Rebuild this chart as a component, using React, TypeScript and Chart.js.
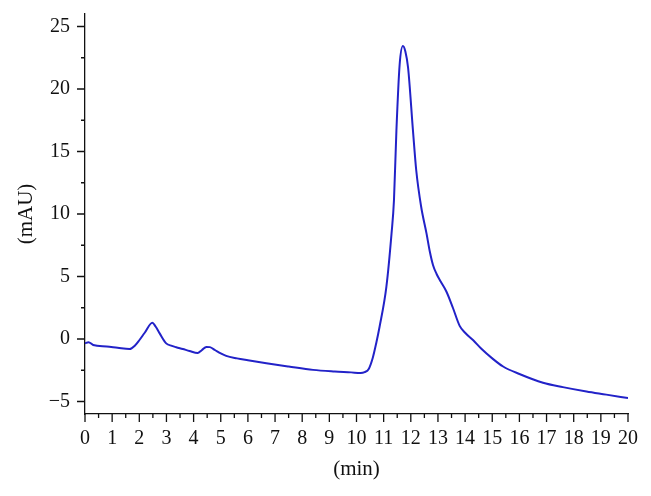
import React, { useEffect, useRef } from "react";
import { Chart, registerables } from "chart.js";

Chart.register(...registerables);

const timeMin: number[] = [
  0, 0.13, 0.3, 0.8, 1.2, 1.64, 1.85, 2.0, 2.2, 2.48, 2.6, 2.75, 2.99, 3.2, 3.36, 3.6, 3.85, 4.15, 4.3, 4.47,
  4.6, 4.8, 5.0, 5.2, 5.6, 6.0, 6.68, 7.5, 8.4, 9.2, 9.8, 10.15, 10.3, 10.45, 10.6, 10.73, 10.85, 11.1, 11.29,
  11.38, 11.47, 11.59, 11.71, 11.8, 11.9, 12.08, 12.2, 12.38, 12.58, 12.7, 12.82, 12.95, 13.1, 13.31, 13.55, 13.8,
  14.0, 14.3, 14.6, 15.0, 15.4, 16.0, 16.87, 17.6, 18.47, 19.2, 20.0,
];
const absorbance: number[] = [
  -0.35, -0.25, -0.48, -0.6, -0.7, -0.8, -0.5, -0.1, 0.5, 1.3, 1.0, 0.45, -0.35, -0.55, -0.66, -0.8, -0.96, -1.12,
  -0.9, -0.63, -0.65, -0.9, -1.15, -1.35, -1.55, -1.7, -1.94, -2.2, -2.47, -2.6, -2.67, -2.72, -2.65, -2.4, -1.5,
  -0.3, 0.98, 4.17, 8.43, 11.1, 16.67, 21.98, 23.44, 23.0, 21.7, 16.67, 13.5, 10.6, 8.43, 7.0, 5.9, 5.2, 4.6, 3.8,
  2.5, 1.05, 0.5, -0.1, -0.78, -1.55, -2.2, -2.8, -3.5, -3.85, -4.2, -4.45, -4.73,
];

const xTicks: number[] = [0, 1, 2, 3, 4, 5, 6, 7, 8, 9, 10, 11, 12, 13, 14, 15, 16, 17, 18, 19, 20];
const yTicks: number[] = [-5, 0, 5, 10, 15, 20, 25];
const xLabel = "(min)";
const yLabel = "(mAU)";

const FONT = "'Liberation Serif', 'Times New Roman', serif";

const tickPlugin = {
  id: "customTicks",
  afterDraw(chart: any) {
    const { ctx, scales } = chart;
    const xs = scales.x;
    const ys = scales.y;
    ctx.save();
    ctx.strokeStyle = "#111";
    ctx.lineWidth = 1.3;
    ctx.beginPath();
    for (let i = 0; i < xTicks.length; i++) {
      const v = xTicks[i];
      const px = xs.getPixelForValue(v);
      ctx.moveTo(px, xs.top);
      ctx.lineTo(px, xs.top + 8);
      if (i < xTicks.length - 1) {
        const mv = (v + xTicks[i + 1]) / 2;
        const mpx = xs.getPixelForValue(mv);
        ctx.moveTo(mpx, xs.top);
        ctx.lineTo(mpx, xs.top + 4);
      }
    }
    for (let i = 0; i < yTicks.length; i++) {
      const v = yTicks[i];
      const py = ys.getPixelForValue(v);
      ctx.moveTo(ys.right, py);
      ctx.lineTo(ys.right - 8, py);
      if (i < yTicks.length - 1) {
        const mv = (v + yTicks[i + 1]) / 2;
        const mpy = ys.getPixelForValue(mv);
        ctx.moveTo(ys.right, mpy);
        ctx.lineTo(ys.right - 4, mpy);
      }
    }
    ctx.stroke();
    ctx.restore();
  },
};

export default function App() {
  const ref = useRef<HTMLCanvasElement | null>(null);
  useEffect(() => {
    if (!ref.current) return;
    const data = timeMin.map((t, i) => ({ x: t, y: absorbance[i] }));
    const chart = new Chart(ref.current, {
      type: "line",
      data: {
        datasets: [
          {
            data,
            borderColor: "#2222c8",
            borderWidth: 2,
            pointRadius: 0,
            fill: false,
            cubicInterpolationMode: "monotone",
          },
        ],
      },
      options: {
        responsive: false,
        animation: false,
        layout: { padding: { left: 0, right: 23, top: 14, bottom: 0 } },
        plugins: { legend: { display: false }, tooltip: { enabled: false } },
        scales: {
          x: {
            type: "linear",
            min: 0,
            max: 20,
            afterBuildTicks: (scale: any) => {
              scale.ticks = xTicks.map((v) => ({ value: v }));
            },
            afterFit: (scale: any) => {
              scale.height = 82;
              scale.paddingLeft = 0;
              scale.paddingRight = 0;
            },
            grid: { display: false, drawTicks: true, tickLength: 8 },
            border: { display: true, color: "#111", width: 1.3 },
            ticks: {
              color: "#111",
              font: { family: FONT, size: 20 },
              padding: 5,
              maxRotation: 0,
              autoSkip: false,
              callback: (v: any) => String(v),
            },
            title: {
              display: true,
              text: xLabel,
              color: "#111",
              font: { family: FONT, size: 21 },
              padding: { top: 0, bottom: 14 },
            },
          },
          y: {
            type: "linear",
            min: -6,
            max: 26,
            afterBuildTicks: (scale: any) => {
              scale.ticks = yTicks.map((v) => ({ value: v }));
            },
            afterFit: (scale: any) => {
              scale.width = 85;
              scale.paddingTop = 0;
              scale.paddingBottom = 0;
            },
            grid: { display: false, drawTicks: true, tickLength: 8 },
            border: { display: true, color: "#111", width: 1.3 },
            ticks: {
              color: "#111",
              font: { family: FONT, size: 20 },
              padding: 7,
              callback: (v: any) => (v < 0 ? "\u2212" + Math.abs(v) : String(v)),
            },
            title: {
              display: true,
              text: yLabel,
              color: "#111",
              font: { family: FONT, size: 21 },
              padding: { top: 14, bottom: 0 },
            },
          },
        },
      },
      plugins: [tickPlugin],
    });
    return () => chart.destroy();
  }, []);
  return (
    <div style={{ position: "fixed", left: 0, top: 0, width: 651, height: 496, background: "#fff" }}>
      <canvas ref={ref} width={651} height={496} />
    </div>
  );
}
